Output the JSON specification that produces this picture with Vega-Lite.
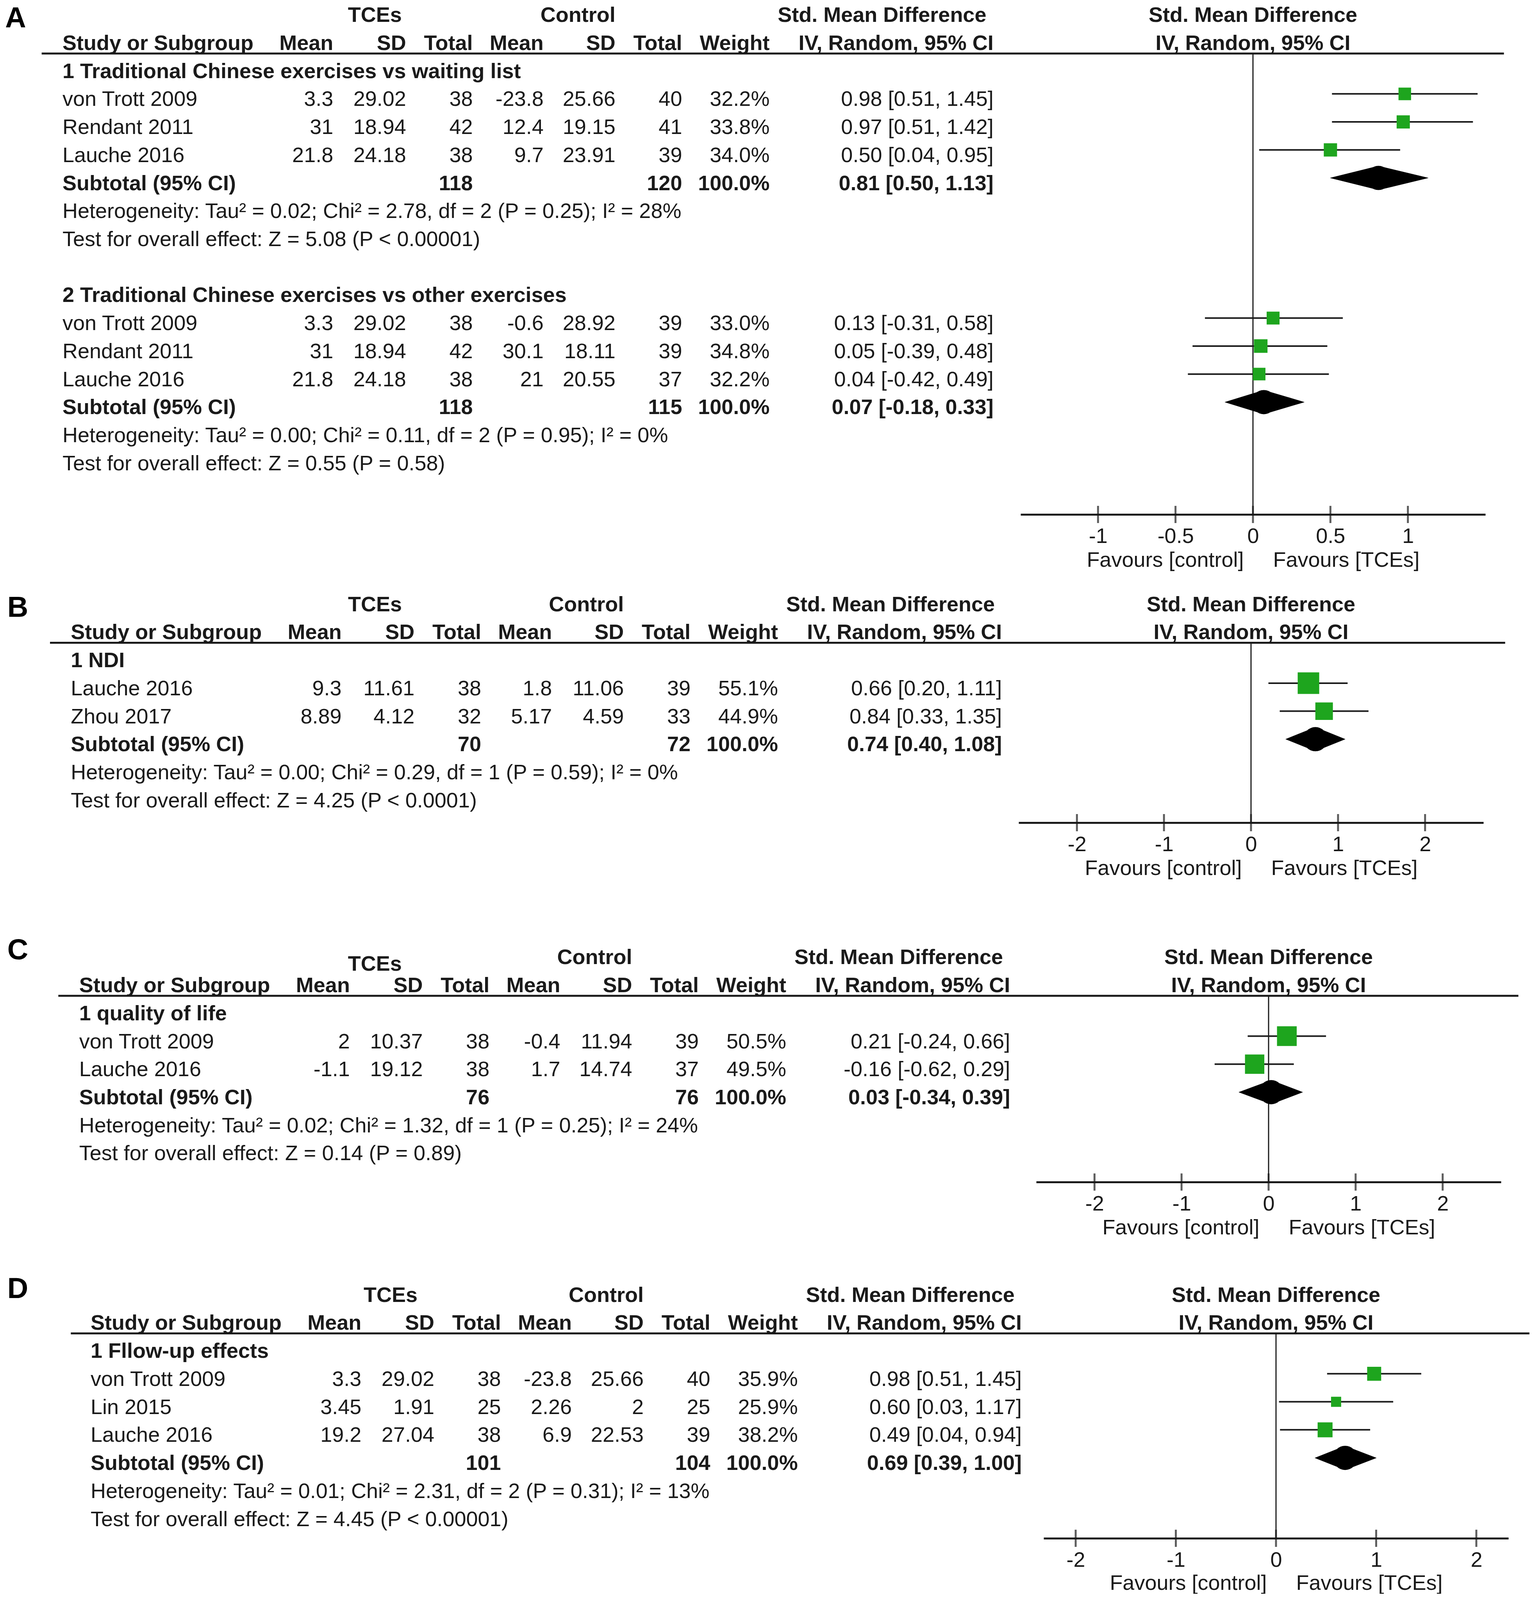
{
"$schema": "https://vega.github.io/schema/vega-lite/v6.json",
"background": "white",
"padding": 0,
"spacing": 16,
"config": {"font": "Liberation Sans", "view": {"stroke": null}, "text": {"fontSize": 54, "baseline": "middle", "color": "#1a1a1a"}},
"datasets": {
"A": [
{"line":0,"kind":"group","tGroup":"TCEs","cGroup":"Control","ciGroup":"Std. Mean Difference","plot":"Std. Mean Difference"},
{"line":1,"kind":"header","label":"Study or Subgroup","tMean":"Mean","tSD":"SD","tN":"Total","cMean":"Mean","cSD":"SD","cN":"Total","weight":"Weight","ci":"IV, Random, 95% CI","plot":"IV, Random, 95% CI"},
{"line":2,"kind":"subgroup","label":"1 Traditional Chinese exercises vs waiting list"},
{"line":3,"kind":"study","label":"von Trott 2009","tMean":"3.3","tSD":"29.02","tN":"38","cMean":"-23.8","cSD":"25.66","cN":"40","weight":"32.2%","ci":"0.98 [0.51, 1.45]","smd":0.98,"lo":0.51,"hi":1.45,"w":32.2},
{"line":4,"kind":"study","label":"Rendant 2011","tMean":"31","tSD":"18.94","tN":"42","cMean":"12.4","cSD":"19.15","cN":"41","weight":"33.8%","ci":"0.97 [0.51, 1.42]","smd":0.97,"lo":0.51,"hi":1.42,"w":33.8},
{"line":5,"kind":"study","label":"Lauche 2016","tMean":"21.8","tSD":"24.18","tN":"38","cMean":"9.7","cSD":"23.91","cN":"39","weight":"34.0%","ci":"0.50 [0.04, 0.95]","smd":0.50,"lo":0.04,"hi":0.95,"w":34.0},
{"line":6,"kind":"subtotal","label":"Subtotal (95% CI)","tN":"118","cN":"120","weight":"100.0%","ci":"0.81 [0.50, 1.13]","smd":0.81,"lo":0.50,"hi":1.13},
{"line":7,"kind":"het","label":"Heterogeneity: Tau² = 0.02; Chi² = 2.78, df = 2 (P = 0.25); I² = 28%"},
{"line":8,"kind":"test","label":"Test for overall effect: Z = 5.08 (P < 0.00001)"},
{"line":10,"kind":"subgroup","label":"2 Traditional Chinese exercises vs other exercises"},
{"line":11,"kind":"study","label":"von Trott 2009","tMean":"3.3","tSD":"29.02","tN":"38","cMean":"-0.6","cSD":"28.92","cN":"39","weight":"33.0%","ci":"0.13 [-0.31, 0.58]","smd":0.13,"lo":-0.31,"hi":0.58,"w":33.0},
{"line":12,"kind":"study","label":"Rendant 2011","tMean":"31","tSD":"18.94","tN":"42","cMean":"30.1","cSD":"18.11","cN":"39","weight":"34.8%","ci":"0.05 [-0.39, 0.48]","smd":0.05,"lo":-0.39,"hi":0.48,"w":34.8},
{"line":13,"kind":"study","label":"Lauche 2016","tMean":"21.8","tSD":"24.18","tN":"38","cMean":"21","cSD":"20.55","cN":"37","weight":"32.2%","ci":"0.04 [-0.42, 0.49]","smd":0.04,"lo":-0.42,"hi":0.49,"w":32.2},
{"line":14,"kind":"subtotal","label":"Subtotal (95% CI)","tN":"118","cN":"115","weight":"100.0%","ci":"0.07 [-0.18, 0.33]","smd":0.07,"lo":-0.18,"hi":0.33},
{"line":15,"kind":"het","label":"Heterogeneity: Tau² = 0.00; Chi² = 0.11, df = 2 (P = 0.95); I² = 0%"},
{"line":16,"kind":"test","label":"Test for overall effect: Z = 0.55 (P = 0.58)"}
],
"B": [
{"line":0,"kind":"group","tGroup":"TCEs","cGroup":"Control","ciGroup":"Std. Mean Difference","plot":"Std. Mean Difference"},
{"line":1,"kind":"header","label":"Study or Subgroup","tMean":"Mean","tSD":"SD","tN":"Total","cMean":"Mean","cSD":"SD","cN":"Total","weight":"Weight","ci":"IV, Random, 95% CI","plot":"IV, Random, 95% CI"},
{"line":2,"kind":"subgroup","label":"1 NDI"},
{"line":3,"kind":"study","label":"Lauche 2016","tMean":"9.3","tSD":"11.61","tN":"38","cMean":"1.8","cSD":"11.06","cN":"39","weight":"55.1%","ci":"0.66 [0.20, 1.11]","smd":0.66,"lo":0.20,"hi":1.11,"w":55.1},
{"line":4,"kind":"study","label":"Zhou 2017","tMean":"8.89","tSD":"4.12","tN":"32","cMean":"5.17","cSD":"4.59","cN":"33","weight":"44.9%","ci":"0.84 [0.33, 1.35]","smd":0.84,"lo":0.33,"hi":1.35,"w":44.9},
{"line":5,"kind":"subtotal","label":"Subtotal (95% CI)","tN":"70","cN":"72","weight":"100.0%","ci":"0.74 [0.40, 1.08]","smd":0.74,"lo":0.40,"hi":1.08},
{"line":6,"kind":"het","label":"Heterogeneity: Tau² = 0.00; Chi² = 0.29, df = 1 (P = 0.59); I² = 0%"},
{"line":7,"kind":"test","label":"Test for overall effect: Z = 4.25 (P < 0.0001)"}
],
"C": [
{"line":0,"kind":"group","tGroup":"TCEs","cGroup":"Control","ciGroup":"Std. Mean Difference","plot":"Std. Mean Difference"},
{"line":1,"kind":"header","label":"Study or Subgroup","tMean":"Mean","tSD":"SD","tN":"Total","cMean":"Mean","cSD":"SD","cN":"Total","weight":"Weight","ci":"IV, Random, 95% CI","plot":"IV, Random, 95% CI"},
{"line":2,"kind":"subgroup","label":"1 quality of life"},
{"line":3,"kind":"study","label":"von Trott 2009","tMean":"2","tSD":"10.37","tN":"38","cMean":"-0.4","cSD":"11.94","cN":"39","weight":"50.5%","ci":"0.21 [-0.24, 0.66]","smd":0.21,"lo":-0.24,"hi":0.66,"w":50.5},
{"line":4,"kind":"study","label":"Lauche 2016","tMean":"-1.1","tSD":"19.12","tN":"38","cMean":"1.7","cSD":"14.74","cN":"37","weight":"49.5%","ci":"-0.16 [-0.62, 0.29]","smd":-0.16,"lo":-0.62,"hi":0.29,"w":49.5},
{"line":5,"kind":"subtotal","label":"Subtotal (95% CI)","tN":"76","cN":"76","weight":"100.0%","ci":"0.03 [-0.34, 0.39]","smd":0.03,"lo":-0.34,"hi":0.39},
{"line":6,"kind":"het","label":"Heterogeneity: Tau² = 0.02; Chi² = 1.32, df = 1 (P = 0.25); I² = 24%"},
{"line":7,"kind":"test","label":"Test for overall effect: Z = 0.14 (P = 0.89)"}
],
"D": [
{"line":0,"kind":"group","tGroup":"TCEs","cGroup":"Control","ciGroup":"Std. Mean Difference","plot":"Std. Mean Difference"},
{"line":1,"kind":"header","label":"Study or Subgroup","tMean":"Mean","tSD":"SD","tN":"Total","cMean":"Mean","cSD":"SD","cN":"Total","weight":"Weight","ci":"IV, Random, 95% CI","plot":"IV, Random, 95% CI"},
{"line":2,"kind":"subgroup","label":"1 Fllow-up effects"},
{"line":3,"kind":"study","label":"von Trott 2009","tMean":"3.3","tSD":"29.02","tN":"38","cMean":"-23.8","cSD":"25.66","cN":"40","weight":"35.9%","ci":"0.98 [0.51, 1.45]","smd":0.98,"lo":0.51,"hi":1.45,"w":35.9},
{"line":4,"kind":"study","label":"Lin 2015","tMean":"3.45","tSD":"1.91","tN":"25","cMean":"2.26","cSD":"2","cN":"25","weight":"25.9%","ci":"0.60 [0.03, 1.17]","smd":0.60,"lo":0.03,"hi":1.17,"w":25.9},
{"line":5,"kind":"study","label":"Lauche 2016","tMean":"19.2","tSD":"27.04","tN":"38","cMean":"6.9","cSD":"22.53","cN":"39","weight":"38.2%","ci":"0.49 [0.04, 0.94]","smd":0.49,"lo":0.04,"hi":0.94,"w":38.2},
{"line":6,"kind":"subtotal","label":"Subtotal (95% CI)","tN":"101","cN":"104","weight":"100.0%","ci":"0.69 [0.39, 1.00]","smd":0.69,"lo":0.39,"hi":1.00},
{"line":7,"kind":"het","label":"Heterogeneity: Tau² = 0.01; Chi² = 2.31, df = 2 (P = 0.31); I² = 13%"},
{"line":8,"kind":"test","label":"Test for overall effect: Z = 4.45 (P < 0.00001)"}
]
},
"vconcat": [
{"hconcat": [
{"width": 2613, "height": 1317, "data": {"name": "A"},
"layer": [
{"data": {"values": [{}]}, "mark": {"type": "rule", "strokeWidth": 5, "color": "#1a1a1a"}, "encoding": {"x": {"datum": -20, "type": "quantitative", "scale": {"domain": [-60, 920], "nice": false, "zero": false}, "axis": null}, "x2": {"datum": 920}, "y": {"datum": 1.35, "type": "quantitative", "scale": {"domain": [-0.56, 17.8], "reverse": true, "nice": false, "zero": false}, "axis": null}}},
{"data": {"values": [{"letter": "A"}]}, "mark": {"type": "text", "align": "left", "fontSize": 74, "fontWeight": "bold", "color": "#000"}, "encoding": {"x": {"datum": -55, "type": "quantitative", "axis": null}, "y": {"datum": 0.11, "type": "quantitative", "axis": null}, "text": {"field": "letter", "type": "nominal"}}},
{"transform": [{"filter": "datum.kind == 'group'"}], "mark": {"type": "text", "align": "center", "fontWeight": "bold"}, "encoding": {"x": {"datum": 300, "type": "quantitative", "axis": null}, "y": {"field": "line", "type": "quantitative", "axis": null}, "text": {"field": "tGroup", "type": "nominal"}}},
{"transform": [{"filter": "datum.kind == 'group'"}], "mark": {"type": "text", "align": "center", "fontWeight": "bold"}, "encoding": {"x": {"datum": 495, "type": "quantitative", "axis": null}, "y": {"field": "line", "type": "quantitative", "axis": null}, "text": {"field": "cGroup", "type": "nominal"}}},
{"transform": [{"filter": "datum.kind == 'group'"}], "mark": {"type": "text", "align": "center", "fontWeight": "bold"}, "encoding": {"x": {"datum": 787, "type": "quantitative", "axis": null}, "y": {"field": "line", "type": "quantitative", "axis": null}, "text": {"field": "ciGroup", "type": "nominal"}}},
{"transform": [{"filter": "datum.kind == 'study' || datum.kind == 'het' || datum.kind == 'test'"}], "mark": {"type": "text", "align": "left"}, "encoding": {"x": {"datum": 0, "type": "quantitative", "axis": null}, "y": {"field": "line", "type": "quantitative", "axis": null}, "text": {"field": "label", "type": "nominal"}}},
{"transform": [{"filter": "datum.kind == 'header' || datum.kind == 'subgroup' || datum.kind == 'subtotal'"}], "mark": {"type": "text", "align": "left", "fontWeight": "bold"}, "encoding": {"x": {"datum": 0, "type": "quantitative", "axis": null}, "y": {"field": "line", "type": "quantitative", "axis": null}, "text": {"field": "label", "type": "nominal"}}},
{"transform": [{"filter": "datum.kind == 'study'"}], "mark": {"type": "text", "align": "right"}, "encoding": {"x": {"datum": 260, "type": "quantitative", "axis": null}, "y": {"field": "line", "type": "quantitative", "axis": null}, "text": {"field": "tMean", "type": "nominal"}}},
{"transform": [{"filter": "datum.kind == 'header'"}], "mark": {"type": "text", "align": "right", "fontWeight": "bold"}, "encoding": {"x": {"datum": 260, "type": "quantitative", "axis": null}, "y": {"field": "line", "type": "quantitative", "axis": null}, "text": {"field": "tMean", "type": "nominal"}}},
{"transform": [{"filter": "datum.kind == 'study'"}], "mark": {"type": "text", "align": "right"}, "encoding": {"x": {"datum": 330, "type": "quantitative", "axis": null}, "y": {"field": "line", "type": "quantitative", "axis": null}, "text": {"field": "tSD", "type": "nominal"}}},
{"transform": [{"filter": "datum.kind == 'header'"}], "mark": {"type": "text", "align": "right", "fontWeight": "bold"}, "encoding": {"x": {"datum": 330, "type": "quantitative", "axis": null}, "y": {"field": "line", "type": "quantitative", "axis": null}, "text": {"field": "tSD", "type": "nominal"}}},
{"transform": [{"filter": "datum.kind == 'study'"}], "mark": {"type": "text", "align": "right"}, "encoding": {"x": {"datum": 394, "type": "quantitative", "axis": null}, "y": {"field": "line", "type": "quantitative", "axis": null}, "text": {"field": "tN", "type": "nominal"}}},
{"transform": [{"filter": "datum.kind == 'header' || datum.kind == 'subtotal'"}], "mark": {"type": "text", "align": "right", "fontWeight": "bold"}, "encoding": {"x": {"datum": 394, "type": "quantitative", "axis": null}, "y": {"field": "line", "type": "quantitative", "axis": null}, "text": {"field": "tN", "type": "nominal"}}},
{"transform": [{"filter": "datum.kind == 'study'"}], "mark": {"type": "text", "align": "right"}, "encoding": {"x": {"datum": 462, "type": "quantitative", "axis": null}, "y": {"field": "line", "type": "quantitative", "axis": null}, "text": {"field": "cMean", "type": "nominal"}}},
{"transform": [{"filter": "datum.kind == 'header'"}], "mark": {"type": "text", "align": "right", "fontWeight": "bold"}, "encoding": {"x": {"datum": 462, "type": "quantitative", "axis": null}, "y": {"field": "line", "type": "quantitative", "axis": null}, "text": {"field": "cMean", "type": "nominal"}}},
{"transform": [{"filter": "datum.kind == 'study'"}], "mark": {"type": "text", "align": "right"}, "encoding": {"x": {"datum": 531, "type": "quantitative", "axis": null}, "y": {"field": "line", "type": "quantitative", "axis": null}, "text": {"field": "cSD", "type": "nominal"}}},
{"transform": [{"filter": "datum.kind == 'header'"}], "mark": {"type": "text", "align": "right", "fontWeight": "bold"}, "encoding": {"x": {"datum": 531, "type": "quantitative", "axis": null}, "y": {"field": "line", "type": "quantitative", "axis": null}, "text": {"field": "cSD", "type": "nominal"}}},
{"transform": [{"filter": "datum.kind == 'study'"}], "mark": {"type": "text", "align": "right"}, "encoding": {"x": {"datum": 595, "type": "quantitative", "axis": null}, "y": {"field": "line", "type": "quantitative", "axis": null}, "text": {"field": "cN", "type": "nominal"}}},
{"transform": [{"filter": "datum.kind == 'header' || datum.kind == 'subtotal'"}], "mark": {"type": "text", "align": "right", "fontWeight": "bold"}, "encoding": {"x": {"datum": 595, "type": "quantitative", "axis": null}, "y": {"field": "line", "type": "quantitative", "axis": null}, "text": {"field": "cN", "type": "nominal"}}},
{"transform": [{"filter": "datum.kind == 'study'"}], "mark": {"type": "text", "align": "right"}, "encoding": {"x": {"datum": 679, "type": "quantitative", "axis": null}, "y": {"field": "line", "type": "quantitative", "axis": null}, "text": {"field": "weight", "type": "nominal"}}},
{"transform": [{"filter": "datum.kind == 'header' || datum.kind == 'subtotal'"}], "mark": {"type": "text", "align": "right", "fontWeight": "bold"}, "encoding": {"x": {"datum": 679, "type": "quantitative", "axis": null}, "y": {"field": "line", "type": "quantitative", "axis": null}, "text": {"field": "weight", "type": "nominal"}}},
{"transform": [{"filter": "datum.kind == 'study'"}], "mark": {"type": "text", "align": "right"}, "encoding": {"x": {"datum": 894, "type": "quantitative", "axis": null}, "y": {"field": "line", "type": "quantitative", "axis": null}, "text": {"field": "ci", "type": "nominal"}}},
{"transform": [{"filter": "datum.kind == 'header' || datum.kind == 'subtotal'"}], "mark": {"type": "text", "align": "right", "fontWeight": "bold"}, "encoding": {"x": {"datum": 894, "type": "quantitative", "axis": null}, "y": {"field": "line", "type": "quantitative", "axis": null}, "text": {"field": "ci", "type": "nominal"}}}
]},
{"width": 1190, "height": 1317, "data": {"name": "A"},
"layer": [
{"data": {"values": [{}]}, "mark": {"type": "rule", "strokeWidth": 5, "color": "#1a1a1a"}, "encoding": {"x": {"datum": -1.5, "type": "quantitative", "scale": {"domain": [-1.5, 1.5], "nice": false, "zero": false}, "axis": {"values": [-1, -0.5, 0, 0.5, 1], "labelExpr": "datum.value + ''", "ticks": false, "grid": false, "domainWidth": 5, "domainColor": "#1a1a1a", "labelFontSize": 54, "labelColor": "#1a1a1a", "labelPadding": 29, "labelFlush": false, "labelOverlap": false, "title": "Favours [control]\u00a0\u00a0\u00a0\u00a0\u00a0Favours [TCEs]", "titleFontSize": 54, "titleFontWeight": "normal", "titleColor": "#1a1a1a", "titlePadding": 7}}, "x2": {"datum": 1.62}, "y": {"datum": 1.35, "type": "quantitative", "scale": {"domain": [-0.56, 17.8], "reverse": true, "nice": false, "zero": false}, "axis": null}}},
{"data": {"values": [{}]}, "mark": {"type": "rule", "strokeWidth": 3, "color": "#1a1a1a"}, "encoding": {"x": {"datum": 0, "type": "quantitative"}, "y": {"datum": 1.35, "type": "quantitative", "axis": null}, "y2": {"datum": 17.8}}},
{"transform": [{"filter": "isValid(datum.plot)"}], "mark": {"type": "text", "align": "center", "fontWeight": "bold"}, "encoding": {"x": {"datum": 0, "type": "quantitative"}, "y": {"field": "line", "type": "quantitative", "axis": null}, "text": {"field": "plot", "type": "nominal"}}},
{"transform": [{"filter": "datum.kind == 'study'"}], "mark": {"type": "rule", "strokeWidth": 4, "color": "#1a1a1a", "yOffset": -15}, "encoding": {"x": {"field": "lo", "type": "quantitative"}, "x2": {"field": "hi"}, "y": {"field": "line", "type": "quantitative", "axis": null}}},
{"transform": [{"filter": "datum.kind == 'study'"}], "mark": {"type": "point", "shape": "square", "filled": true, "color": "#1ea51e", "opacity": 1, "yOffset": -15}, "encoding": {"x": {"field": "smd", "type": "quantitative"}, "y": {"field": "line", "type": "quantitative", "axis": null}, "size": {"field": "w", "type": "quantitative", "scale": {"type": "pow", "exponent": 2, "domain": [0, 100], "range": [0, 10000]}, "legend": null}}},
{"transform": [{"filter": "datum.kind == 'subtotal'"}, {"fold": ["lo", "smd", "hi"], "as": ["key", "value"]}], "mark": {"type": "trail", "color": "#000", "yOffset": -15}, "encoding": {"x": {"field": "value", "type": "quantitative"}, "y": {"field": "line", "type": "quantitative", "axis": null}, "size": {"field": "key", "type": "nominal", "scale": {"type": "ordinal", "domain": ["lo", "smd", "hi"], "range": [0, 62, 0]}, "legend": null}, "detail": {"field": "line", "type": "nominal"}}},
{"data": {"values": [{"t": -1}, {"t": -0.5}, {"t": 0}, {"t": 0.5}, {"t": 1}]}, "mark": {"type": "tick", "orient": "vertical", "size": 44, "thickness": 5, "color": "#1a1a1a"}, "encoding": {"x": {"field": "t", "type": "quantitative"}, "y": {"datum": 17.8, "type": "quantitative", "axis": null}}}
]}
], "spacing": 0, "bounds": "flush"},
{"hconcat": [
{"width": 2608, "height": 629, "data": {"name": "B"},
"layer": [
{"data": {"values": [{}]}, "mark": {"type": "rule", "strokeWidth": 5, "color": "#1a1a1a"}, "encoding": {"x": {"datum": -20, "type": "quantitative", "scale": {"domain": [-68, 910], "nice": false, "zero": false}, "axis": null}, "x2": {"datum": 910}, "y": {"datum": 1.35, "type": "quantitative", "scale": {"domain": [-1.0, 7.77], "reverse": true, "nice": false, "zero": false}, "axis": null}}},
{"data": {"values": [{"letter": "B"}]}, "mark": {"type": "text", "align": "left", "fontSize": 74, "fontWeight": "bold", "color": "#000"}, "encoding": {"x": {"datum": -61, "type": "quantitative", "axis": null}, "y": {"datum": 0.11, "type": "quantitative", "axis": null}, "text": {"field": "letter", "type": "nominal"}}},
{"transform": [{"filter": "datum.kind == 'group'"}], "mark": {"type": "text", "align": "center", "fontWeight": "bold"}, "encoding": {"x": {"datum": 292, "type": "quantitative", "axis": null}, "y": {"field": "line", "type": "quantitative", "axis": null}, "text": {"field": "tGroup", "type": "nominal"}}},
{"transform": [{"filter": "datum.kind == 'group'"}], "mark": {"type": "text", "align": "center", "fontWeight": "bold"}, "encoding": {"x": {"datum": 495, "type": "quantitative", "axis": null}, "y": {"field": "line", "type": "quantitative", "axis": null}, "text": {"field": "cGroup", "type": "nominal"}}},
{"transform": [{"filter": "datum.kind == 'group'"}], "mark": {"type": "text", "align": "center", "fontWeight": "bold"}, "encoding": {"x": {"datum": 787, "type": "quantitative", "axis": null}, "y": {"field": "line", "type": "quantitative", "axis": null}, "text": {"field": "ciGroup", "type": "nominal"}}},
{"transform": [{"filter": "datum.kind == 'study' || datum.kind == 'het' || datum.kind == 'test'"}], "mark": {"type": "text", "align": "left"}, "encoding": {"x": {"datum": 0, "type": "quantitative", "axis": null}, "y": {"field": "line", "type": "quantitative", "axis": null}, "text": {"field": "label", "type": "nominal"}}},
{"transform": [{"filter": "datum.kind == 'header' || datum.kind == 'subgroup' || datum.kind == 'subtotal'"}], "mark": {"type": "text", "align": "left", "fontWeight": "bold"}, "encoding": {"x": {"datum": 0, "type": "quantitative", "axis": null}, "y": {"field": "line", "type": "quantitative", "axis": null}, "text": {"field": "label", "type": "nominal"}}},
{"transform": [{"filter": "datum.kind == 'study'"}], "mark": {"type": "text", "align": "right"}, "encoding": {"x": {"datum": 260, "type": "quantitative", "axis": null}, "y": {"field": "line", "type": "quantitative", "axis": null}, "text": {"field": "tMean", "type": "nominal"}}},
{"transform": [{"filter": "datum.kind == 'header'"}], "mark": {"type": "text", "align": "right", "fontWeight": "bold"}, "encoding": {"x": {"datum": 260, "type": "quantitative", "axis": null}, "y": {"field": "line", "type": "quantitative", "axis": null}, "text": {"field": "tMean", "type": "nominal"}}},
{"transform": [{"filter": "datum.kind == 'study'"}], "mark": {"type": "text", "align": "right"}, "encoding": {"x": {"datum": 330, "type": "quantitative", "axis": null}, "y": {"field": "line", "type": "quantitative", "axis": null}, "text": {"field": "tSD", "type": "nominal"}}},
{"transform": [{"filter": "datum.kind == 'header'"}], "mark": {"type": "text", "align": "right", "fontWeight": "bold"}, "encoding": {"x": {"datum": 330, "type": "quantitative", "axis": null}, "y": {"field": "line", "type": "quantitative", "axis": null}, "text": {"field": "tSD", "type": "nominal"}}},
{"transform": [{"filter": "datum.kind == 'study'"}], "mark": {"type": "text", "align": "right"}, "encoding": {"x": {"datum": 394, "type": "quantitative", "axis": null}, "y": {"field": "line", "type": "quantitative", "axis": null}, "text": {"field": "tN", "type": "nominal"}}},
{"transform": [{"filter": "datum.kind == 'header' || datum.kind == 'subtotal'"}], "mark": {"type": "text", "align": "right", "fontWeight": "bold"}, "encoding": {"x": {"datum": 394, "type": "quantitative", "axis": null}, "y": {"field": "line", "type": "quantitative", "axis": null}, "text": {"field": "tN", "type": "nominal"}}},
{"transform": [{"filter": "datum.kind == 'study'"}], "mark": {"type": "text", "align": "right"}, "encoding": {"x": {"datum": 462, "type": "quantitative", "axis": null}, "y": {"field": "line", "type": "quantitative", "axis": null}, "text": {"field": "cMean", "type": "nominal"}}},
{"transform": [{"filter": "datum.kind == 'header'"}], "mark": {"type": "text", "align": "right", "fontWeight": "bold"}, "encoding": {"x": {"datum": 462, "type": "quantitative", "axis": null}, "y": {"field": "line", "type": "quantitative", "axis": null}, "text": {"field": "cMean", "type": "nominal"}}},
{"transform": [{"filter": "datum.kind == 'study'"}], "mark": {"type": "text", "align": "right"}, "encoding": {"x": {"datum": 531, "type": "quantitative", "axis": null}, "y": {"field": "line", "type": "quantitative", "axis": null}, "text": {"field": "cSD", "type": "nominal"}}},
{"transform": [{"filter": "datum.kind == 'header'"}], "mark": {"type": "text", "align": "right", "fontWeight": "bold"}, "encoding": {"x": {"datum": 531, "type": "quantitative", "axis": null}, "y": {"field": "line", "type": "quantitative", "axis": null}, "text": {"field": "cSD", "type": "nominal"}}},
{"transform": [{"filter": "datum.kind == 'study'"}], "mark": {"type": "text", "align": "right"}, "encoding": {"x": {"datum": 595, "type": "quantitative", "axis": null}, "y": {"field": "line", "type": "quantitative", "axis": null}, "text": {"field": "cN", "type": "nominal"}}},
{"transform": [{"filter": "datum.kind == 'header' || datum.kind == 'subtotal'"}], "mark": {"type": "text", "align": "right", "fontWeight": "bold"}, "encoding": {"x": {"datum": 595, "type": "quantitative", "axis": null}, "y": {"field": "line", "type": "quantitative", "axis": null}, "text": {"field": "cN", "type": "nominal"}}},
{"transform": [{"filter": "datum.kind == 'study'"}], "mark": {"type": "text", "align": "right"}, "encoding": {"x": {"datum": 679, "type": "quantitative", "axis": null}, "y": {"field": "line", "type": "quantitative", "axis": null}, "text": {"field": "weight", "type": "nominal"}}},
{"transform": [{"filter": "datum.kind == 'header' || datum.kind == 'subtotal'"}], "mark": {"type": "text", "align": "right", "fontWeight": "bold"}, "encoding": {"x": {"datum": 679, "type": "quantitative", "axis": null}, "y": {"field": "line", "type": "quantitative", "axis": null}, "text": {"field": "weight", "type": "nominal"}}},
{"transform": [{"filter": "datum.kind == 'study'"}], "mark": {"type": "text", "align": "right"}, "encoding": {"x": {"datum": 894, "type": "quantitative", "axis": null}, "y": {"field": "line", "type": "quantitative", "axis": null}, "text": {"field": "ci", "type": "nominal"}}},
{"transform": [{"filter": "datum.kind == 'header' || datum.kind == 'subtotal'"}], "mark": {"type": "text", "align": "right", "fontWeight": "bold"}, "encoding": {"x": {"datum": 894, "type": "quantitative", "axis": null}, "y": {"field": "line", "type": "quantitative", "axis": null}, "text": {"field": "ci", "type": "nominal"}}}
]},
{"width": 1190, "height": 629, "data": {"name": "B"},
"layer": [
{"data": {"values": [{}]}, "mark": {"type": "rule", "strokeWidth": 5, "color": "#1a1a1a"}, "encoding": {"x": {"datum": -2.67, "type": "quantitative", "scale": {"domain": [-2.67, 2.67], "nice": false, "zero": false}, "axis": {"values": [-2, -1, 0, 1, 2], "labelExpr": "datum.value + ''", "ticks": false, "grid": false, "domainWidth": 5, "domainColor": "#1a1a1a", "labelFontSize": 54, "labelColor": "#1a1a1a", "labelPadding": 29, "labelFlush": false, "labelOverlap": false, "title": "Favours [control]\u00a0\u00a0\u00a0\u00a0\u00a0Favours [TCEs]", "titleFontSize": 54, "titleFontWeight": "normal", "titleColor": "#1a1a1a", "titlePadding": 7}}, "x2": {"datum": 2.92}, "y": {"datum": 1.35, "type": "quantitative", "scale": {"domain": [-1.0, 7.77], "reverse": true, "nice": false, "zero": false}, "axis": null}}},
{"data": {"values": [{}]}, "mark": {"type": "rule", "strokeWidth": 3, "color": "#1a1a1a"}, "encoding": {"x": {"datum": 0, "type": "quantitative"}, "y": {"datum": 1.35, "type": "quantitative", "axis": null}, "y2": {"datum": 7.77}}},
{"transform": [{"filter": "isValid(datum.plot)"}], "mark": {"type": "text", "align": "center", "fontWeight": "bold"}, "encoding": {"x": {"datum": 0, "type": "quantitative"}, "y": {"field": "line", "type": "quantitative", "axis": null}, "text": {"field": "plot", "type": "nominal"}}},
{"transform": [{"filter": "datum.kind == 'study'"}], "mark": {"type": "rule", "strokeWidth": 4, "color": "#1a1a1a", "yOffset": -15}, "encoding": {"x": {"field": "lo", "type": "quantitative"}, "x2": {"field": "hi"}, "y": {"field": "line", "type": "quantitative", "axis": null}}},
{"transform": [{"filter": "datum.kind == 'study'"}], "mark": {"type": "point", "shape": "square", "filled": true, "color": "#1ea51e", "opacity": 1, "yOffset": -15}, "encoding": {"x": {"field": "smd", "type": "quantitative"}, "y": {"field": "line", "type": "quantitative", "axis": null}, "size": {"field": "w", "type": "quantitative", "scale": {"type": "pow", "exponent": 2, "domain": [0, 100], "range": [0, 10000]}, "legend": null}}},
{"transform": [{"filter": "datum.kind == 'subtotal'"}, {"fold": ["lo", "smd", "hi"], "as": ["key", "value"]}], "mark": {"type": "trail", "color": "#000", "yOffset": -15}, "encoding": {"x": {"field": "value", "type": "quantitative"}, "y": {"field": "line", "type": "quantitative", "axis": null}, "size": {"field": "key", "type": "nominal", "scale": {"type": "ordinal", "domain": ["lo", "smd", "hi"], "range": [0, 62, 0]}, "legend": null}, "detail": {"field": "line", "type": "nominal"}}},
{"data": {"values": [{"t": -2}, {"t": -1}, {"t": 0}, {"t": 1}, {"t": 2}]}, "mark": {"type": "tick", "orient": "vertical", "size": 44, "thickness": 5, "color": "#1a1a1a"}, "encoding": {"x": {"field": "t", "type": "quantitative"}, "y": {"datum": 7.77, "type": "quantitative", "axis": null}}}
]}
], "spacing": 0, "bounds": "flush"},
{"hconcat": [
{"width": 2653, "height": 760, "data": {"name": "C"},
"layer": [
{"data": {"values": [{}]}, "mark": {"type": "rule", "strokeWidth": 5, "color": "#1a1a1a"}, "encoding": {"x": {"datum": -20, "type": "quantitative", "scale": {"domain": [-76, 919], "nice": false, "zero": false}, "axis": null}, "x2": {"datum": 919}, "y": {"datum": 1.35, "type": "quantitative", "scale": {"domain": [-2.6, 8.0], "reverse": true, "nice": false, "zero": false}, "axis": null}}},
{"data": {"values": [{"letter": "C"}]}, "mark": {"type": "text", "align": "left", "fontSize": 74, "fontWeight": "bold", "color": "#000"}, "encoding": {"x": {"datum": -69, "type": "quantitative", "axis": null}, "y": {"datum": -0.26, "type": "quantitative", "axis": null}, "text": {"field": "letter", "type": "nominal"}}},
{"transform": [{"filter": "datum.kind == 'group'"}], "mark": {"type": "text", "align": "center", "fontWeight": "bold", "yOffset": 17}, "encoding": {"x": {"datum": 284, "type": "quantitative", "axis": null}, "y": {"field": "line", "type": "quantitative", "axis": null}, "text": {"field": "tGroup", "type": "nominal"}}},
{"transform": [{"filter": "datum.kind == 'group'"}], "mark": {"type": "text", "align": "center", "fontWeight": "bold"}, "encoding": {"x": {"datum": 495, "type": "quantitative", "axis": null}, "y": {"field": "line", "type": "quantitative", "axis": null}, "text": {"field": "cGroup", "type": "nominal"}}},
{"transform": [{"filter": "datum.kind == 'group'"}], "mark": {"type": "text", "align": "center", "fontWeight": "bold"}, "encoding": {"x": {"datum": 787, "type": "quantitative", "axis": null}, "y": {"field": "line", "type": "quantitative", "axis": null}, "text": {"field": "ciGroup", "type": "nominal"}}},
{"transform": [{"filter": "datum.kind == 'study' || datum.kind == 'het' || datum.kind == 'test'"}], "mark": {"type": "text", "align": "left"}, "encoding": {"x": {"datum": 0, "type": "quantitative", "axis": null}, "y": {"field": "line", "type": "quantitative", "axis": null}, "text": {"field": "label", "type": "nominal"}}},
{"transform": [{"filter": "datum.kind == 'header' || datum.kind == 'subgroup' || datum.kind == 'subtotal'"}], "mark": {"type": "text", "align": "left", "fontWeight": "bold"}, "encoding": {"x": {"datum": 0, "type": "quantitative", "axis": null}, "y": {"field": "line", "type": "quantitative", "axis": null}, "text": {"field": "label", "type": "nominal"}}},
{"transform": [{"filter": "datum.kind == 'study'"}], "mark": {"type": "text", "align": "right"}, "encoding": {"x": {"datum": 260, "type": "quantitative", "axis": null}, "y": {"field": "line", "type": "quantitative", "axis": null}, "text": {"field": "tMean", "type": "nominal"}}},
{"transform": [{"filter": "datum.kind == 'header'"}], "mark": {"type": "text", "align": "right", "fontWeight": "bold"}, "encoding": {"x": {"datum": 260, "type": "quantitative", "axis": null}, "y": {"field": "line", "type": "quantitative", "axis": null}, "text": {"field": "tMean", "type": "nominal"}}},
{"transform": [{"filter": "datum.kind == 'study'"}], "mark": {"type": "text", "align": "right"}, "encoding": {"x": {"datum": 330, "type": "quantitative", "axis": null}, "y": {"field": "line", "type": "quantitative", "axis": null}, "text": {"field": "tSD", "type": "nominal"}}},
{"transform": [{"filter": "datum.kind == 'header'"}], "mark": {"type": "text", "align": "right", "fontWeight": "bold"}, "encoding": {"x": {"datum": 330, "type": "quantitative", "axis": null}, "y": {"field": "line", "type": "quantitative", "axis": null}, "text": {"field": "tSD", "type": "nominal"}}},
{"transform": [{"filter": "datum.kind == 'study'"}], "mark": {"type": "text", "align": "right"}, "encoding": {"x": {"datum": 394, "type": "quantitative", "axis": null}, "y": {"field": "line", "type": "quantitative", "axis": null}, "text": {"field": "tN", "type": "nominal"}}},
{"transform": [{"filter": "datum.kind == 'header' || datum.kind == 'subtotal'"}], "mark": {"type": "text", "align": "right", "fontWeight": "bold"}, "encoding": {"x": {"datum": 394, "type": "quantitative", "axis": null}, "y": {"field": "line", "type": "quantitative", "axis": null}, "text": {"field": "tN", "type": "nominal"}}},
{"transform": [{"filter": "datum.kind == 'study'"}], "mark": {"type": "text", "align": "right"}, "encoding": {"x": {"datum": 462, "type": "quantitative", "axis": null}, "y": {"field": "line", "type": "quantitative", "axis": null}, "text": {"field": "cMean", "type": "nominal"}}},
{"transform": [{"filter": "datum.kind == 'header'"}], "mark": {"type": "text", "align": "right", "fontWeight": "bold"}, "encoding": {"x": {"datum": 462, "type": "quantitative", "axis": null}, "y": {"field": "line", "type": "quantitative", "axis": null}, "text": {"field": "cMean", "type": "nominal"}}},
{"transform": [{"filter": "datum.kind == 'study'"}], "mark": {"type": "text", "align": "right"}, "encoding": {"x": {"datum": 531, "type": "quantitative", "axis": null}, "y": {"field": "line", "type": "quantitative", "axis": null}, "text": {"field": "cSD", "type": "nominal"}}},
{"transform": [{"filter": "datum.kind == 'header'"}], "mark": {"type": "text", "align": "right", "fontWeight": "bold"}, "encoding": {"x": {"datum": 531, "type": "quantitative", "axis": null}, "y": {"field": "line", "type": "quantitative", "axis": null}, "text": {"field": "cSD", "type": "nominal"}}},
{"transform": [{"filter": "datum.kind == 'study'"}], "mark": {"type": "text", "align": "right"}, "encoding": {"x": {"datum": 595, "type": "quantitative", "axis": null}, "y": {"field": "line", "type": "quantitative", "axis": null}, "text": {"field": "cN", "type": "nominal"}}},
{"transform": [{"filter": "datum.kind == 'header' || datum.kind == 'subtotal'"}], "mark": {"type": "text", "align": "right", "fontWeight": "bold"}, "encoding": {"x": {"datum": 595, "type": "quantitative", "axis": null}, "y": {"field": "line", "type": "quantitative", "axis": null}, "text": {"field": "cN", "type": "nominal"}}},
{"transform": [{"filter": "datum.kind == 'study'"}], "mark": {"type": "text", "align": "right"}, "encoding": {"x": {"datum": 679, "type": "quantitative", "axis": null}, "y": {"field": "line", "type": "quantitative", "axis": null}, "text": {"field": "weight", "type": "nominal"}}},
{"transform": [{"filter": "datum.kind == 'header' || datum.kind == 'subtotal'"}], "mark": {"type": "text", "align": "right", "fontWeight": "bold"}, "encoding": {"x": {"datum": 679, "type": "quantitative", "axis": null}, "y": {"field": "line", "type": "quantitative", "axis": null}, "text": {"field": "weight", "type": "nominal"}}},
{"transform": [{"filter": "datum.kind == 'study'"}], "mark": {"type": "text", "align": "right"}, "encoding": {"x": {"datum": 894, "type": "quantitative", "axis": null}, "y": {"field": "line", "type": "quantitative", "axis": null}, "text": {"field": "ci", "type": "nominal"}}},
{"transform": [{"filter": "datum.kind == 'header' || datum.kind == 'subtotal'"}], "mark": {"type": "text", "align": "right", "fontWeight": "bold"}, "encoding": {"x": {"datum": 894, "type": "quantitative", "axis": null}, "y": {"field": "line", "type": "quantitative", "axis": null}, "text": {"field": "ci", "type": "nominal"}}}
]},
{"width": 1190, "height": 760, "data": {"name": "C"},
"layer": [
{"data": {"values": [{}]}, "mark": {"type": "rule", "strokeWidth": 5, "color": "#1a1a1a"}, "encoding": {"x": {"datum": -2.67, "type": "quantitative", "scale": {"domain": [-2.67, 2.67], "nice": false, "zero": false}, "axis": {"values": [-2, -1, 0, 1, 2], "labelExpr": "datum.value + ''", "ticks": false, "grid": false, "domainWidth": 5, "domainColor": "#1a1a1a", "labelFontSize": 54, "labelColor": "#1a1a1a", "labelPadding": 29, "labelFlush": false, "labelOverlap": false, "title": "Favours [control]\u00a0\u00a0\u00a0\u00a0\u00a0Favours [TCEs]", "titleFontSize": 54, "titleFontWeight": "normal", "titleColor": "#1a1a1a", "titlePadding": 7}}, "x2": {"datum": 2.87}, "y": {"datum": 1.35, "type": "quantitative", "scale": {"domain": [-2.6, 8.0], "reverse": true, "nice": false, "zero": false}, "axis": null}}},
{"data": {"values": [{}]}, "mark": {"type": "rule", "strokeWidth": 3, "color": "#1a1a1a"}, "encoding": {"x": {"datum": 0, "type": "quantitative"}, "y": {"datum": 1.35, "type": "quantitative", "axis": null}, "y2": {"datum": 8.0}}},
{"transform": [{"filter": "isValid(datum.plot)"}], "mark": {"type": "text", "align": "center", "fontWeight": "bold"}, "encoding": {"x": {"datum": 0, "type": "quantitative"}, "y": {"field": "line", "type": "quantitative", "axis": null}, "text": {"field": "plot", "type": "nominal"}}},
{"transform": [{"filter": "datum.kind == 'study'"}], "mark": {"type": "rule", "strokeWidth": 4, "color": "#1a1a1a", "yOffset": -15}, "encoding": {"x": {"field": "lo", "type": "quantitative"}, "x2": {"field": "hi"}, "y": {"field": "line", "type": "quantitative", "axis": null}}},
{"transform": [{"filter": "datum.kind == 'study'"}], "mark": {"type": "point", "shape": "square", "filled": true, "color": "#1ea51e", "opacity": 1, "yOffset": -15}, "encoding": {"x": {"field": "smd", "type": "quantitative"}, "y": {"field": "line", "type": "quantitative", "axis": null}, "size": {"field": "w", "type": "quantitative", "scale": {"type": "pow", "exponent": 2, "domain": [0, 100], "range": [0, 10000]}, "legend": null}}},
{"transform": [{"filter": "datum.kind == 'subtotal'"}, {"fold": ["lo", "smd", "hi"], "as": ["key", "value"]}], "mark": {"type": "trail", "color": "#000", "yOffset": -15}, "encoding": {"x": {"field": "value", "type": "quantitative"}, "y": {"field": "line", "type": "quantitative", "axis": null}, "size": {"field": "key", "type": "nominal", "scale": {"type": "ordinal", "domain": ["lo", "smd", "hi"], "range": [0, 62, 0]}, "legend": null}, "detail": {"field": "line", "type": "nominal"}}},
{"data": {"values": [{"t": -2}, {"t": -1}, {"t": 0}, {"t": 1}, {"t": 2}]}, "mark": {"type": "tick", "orient": "vertical", "size": 44, "thickness": 5, "color": "#1a1a1a"}, "encoding": {"x": {"field": "t", "type": "quantitative"}, "y": {"datum": 8.0, "type": "quantitative", "axis": null}}}
]}
], "spacing": 0, "bounds": "flush"},
{"hconcat": [
{"width": 2672, "height": 752, "data": {"name": "D"},
"layer": [
{"data": {"values": [{}]}, "mark": {"type": "rule", "strokeWidth": 5, "color": "#1a1a1a"}, "encoding": {"x": {"datum": -19, "type": "quantitative", "scale": {"domain": [-87, 915], "nice": false, "zero": false}, "axis": null}, "x2": {"datum": 915}, "y": {"datum": 1.35, "type": "quantitative", "scale": {"domain": [-1.82, 8.66], "reverse": true, "nice": false, "zero": false}, "axis": null}}},
{"data": {"values": [{"letter": "D"}]}, "mark": {"type": "text", "align": "left", "fontSize": 74, "fontWeight": "bold", "color": "#000"}, "encoding": {"x": {"datum": -80, "type": "quantitative", "axis": null}, "y": {"datum": -0.22, "type": "quantitative", "axis": null}, "text": {"field": "letter", "type": "nominal"}}},
{"transform": [{"filter": "datum.kind == 'group'"}], "mark": {"type": "text", "align": "center", "fontWeight": "bold"}, "encoding": {"x": {"datum": 288, "type": "quantitative", "axis": null}, "y": {"field": "line", "type": "quantitative", "axis": null}, "text": {"field": "tGroup", "type": "nominal"}}},
{"transform": [{"filter": "datum.kind == 'group'"}], "mark": {"type": "text", "align": "center", "fontWeight": "bold"}, "encoding": {"x": {"datum": 495, "type": "quantitative", "axis": null}, "y": {"field": "line", "type": "quantitative", "axis": null}, "text": {"field": "cGroup", "type": "nominal"}}},
{"transform": [{"filter": "datum.kind == 'group'"}], "mark": {"type": "text", "align": "center", "fontWeight": "bold"}, "encoding": {"x": {"datum": 787, "type": "quantitative", "axis": null}, "y": {"field": "line", "type": "quantitative", "axis": null}, "text": {"field": "ciGroup", "type": "nominal"}}},
{"transform": [{"filter": "datum.kind == 'study' || datum.kind == 'het' || datum.kind == 'test'"}], "mark": {"type": "text", "align": "left"}, "encoding": {"x": {"datum": 0, "type": "quantitative", "axis": null}, "y": {"field": "line", "type": "quantitative", "axis": null}, "text": {"field": "label", "type": "nominal"}}},
{"transform": [{"filter": "datum.kind == 'header' || datum.kind == 'subgroup' || datum.kind == 'subtotal'"}], "mark": {"type": "text", "align": "left", "fontWeight": "bold"}, "encoding": {"x": {"datum": 0, "type": "quantitative", "axis": null}, "y": {"field": "line", "type": "quantitative", "axis": null}, "text": {"field": "label", "type": "nominal"}}},
{"transform": [{"filter": "datum.kind == 'study'"}], "mark": {"type": "text", "align": "right"}, "encoding": {"x": {"datum": 260, "type": "quantitative", "axis": null}, "y": {"field": "line", "type": "quantitative", "axis": null}, "text": {"field": "tMean", "type": "nominal"}}},
{"transform": [{"filter": "datum.kind == 'header'"}], "mark": {"type": "text", "align": "right", "fontWeight": "bold"}, "encoding": {"x": {"datum": 260, "type": "quantitative", "axis": null}, "y": {"field": "line", "type": "quantitative", "axis": null}, "text": {"field": "tMean", "type": "nominal"}}},
{"transform": [{"filter": "datum.kind == 'study'"}], "mark": {"type": "text", "align": "right"}, "encoding": {"x": {"datum": 330, "type": "quantitative", "axis": null}, "y": {"field": "line", "type": "quantitative", "axis": null}, "text": {"field": "tSD", "type": "nominal"}}},
{"transform": [{"filter": "datum.kind == 'header'"}], "mark": {"type": "text", "align": "right", "fontWeight": "bold"}, "encoding": {"x": {"datum": 330, "type": "quantitative", "axis": null}, "y": {"field": "line", "type": "quantitative", "axis": null}, "text": {"field": "tSD", "type": "nominal"}}},
{"transform": [{"filter": "datum.kind == 'study'"}], "mark": {"type": "text", "align": "right"}, "encoding": {"x": {"datum": 394, "type": "quantitative", "axis": null}, "y": {"field": "line", "type": "quantitative", "axis": null}, "text": {"field": "tN", "type": "nominal"}}},
{"transform": [{"filter": "datum.kind == 'header' || datum.kind == 'subtotal'"}], "mark": {"type": "text", "align": "right", "fontWeight": "bold"}, "encoding": {"x": {"datum": 394, "type": "quantitative", "axis": null}, "y": {"field": "line", "type": "quantitative", "axis": null}, "text": {"field": "tN", "type": "nominal"}}},
{"transform": [{"filter": "datum.kind == 'study'"}], "mark": {"type": "text", "align": "right"}, "encoding": {"x": {"datum": 462, "type": "quantitative", "axis": null}, "y": {"field": "line", "type": "quantitative", "axis": null}, "text": {"field": "cMean", "type": "nominal"}}},
{"transform": [{"filter": "datum.kind == 'header'"}], "mark": {"type": "text", "align": "right", "fontWeight": "bold"}, "encoding": {"x": {"datum": 462, "type": "quantitative", "axis": null}, "y": {"field": "line", "type": "quantitative", "axis": null}, "text": {"field": "cMean", "type": "nominal"}}},
{"transform": [{"filter": "datum.kind == 'study'"}], "mark": {"type": "text", "align": "right"}, "encoding": {"x": {"datum": 531, "type": "quantitative", "axis": null}, "y": {"field": "line", "type": "quantitative", "axis": null}, "text": {"field": "cSD", "type": "nominal"}}},
{"transform": [{"filter": "datum.kind == 'header'"}], "mark": {"type": "text", "align": "right", "fontWeight": "bold"}, "encoding": {"x": {"datum": 531, "type": "quantitative", "axis": null}, "y": {"field": "line", "type": "quantitative", "axis": null}, "text": {"field": "cSD", "type": "nominal"}}},
{"transform": [{"filter": "datum.kind == 'study'"}], "mark": {"type": "text", "align": "right"}, "encoding": {"x": {"datum": 595, "type": "quantitative", "axis": null}, "y": {"field": "line", "type": "quantitative", "axis": null}, "text": {"field": "cN", "type": "nominal"}}},
{"transform": [{"filter": "datum.kind == 'header' || datum.kind == 'subtotal'"}], "mark": {"type": "text", "align": "right", "fontWeight": "bold"}, "encoding": {"x": {"datum": 595, "type": "quantitative", "axis": null}, "y": {"field": "line", "type": "quantitative", "axis": null}, "text": {"field": "cN", "type": "nominal"}}},
{"transform": [{"filter": "datum.kind == 'study'"}], "mark": {"type": "text", "align": "right"}, "encoding": {"x": {"datum": 679, "type": "quantitative", "axis": null}, "y": {"field": "line", "type": "quantitative", "axis": null}, "text": {"field": "weight", "type": "nominal"}}},
{"transform": [{"filter": "datum.kind == 'header' || datum.kind == 'subtotal'"}], "mark": {"type": "text", "align": "right", "fontWeight": "bold"}, "encoding": {"x": {"datum": 679, "type": "quantitative", "axis": null}, "y": {"field": "line", "type": "quantitative", "axis": null}, "text": {"field": "weight", "type": "nominal"}}},
{"transform": [{"filter": "datum.kind == 'study'"}], "mark": {"type": "text", "align": "right"}, "encoding": {"x": {"datum": 894, "type": "quantitative", "axis": null}, "y": {"field": "line", "type": "quantitative", "axis": null}, "text": {"field": "ci", "type": "nominal"}}},
{"transform": [{"filter": "datum.kind == 'header' || datum.kind == 'subtotal'"}], "mark": {"type": "text", "align": "right", "fontWeight": "bold"}, "encoding": {"x": {"datum": 894, "type": "quantitative", "axis": null}, "y": {"field": "line", "type": "quantitative", "axis": null}, "text": {"field": "ci", "type": "nominal"}}}
]},
{"width": 1190, "height": 752, "data": {"name": "D"},
"layer": [
{"data": {"values": [{}]}, "mark": {"type": "rule", "strokeWidth": 5, "color": "#1a1a1a"}, "encoding": {"x": {"datum": -2.32, "type": "quantitative", "scale": {"domain": [-2.32, 2.32], "nice": false, "zero": false}, "axis": {"values": [-2, -1, 0, 1, 2], "labelExpr": "datum.value + ''", "ticks": false, "grid": false, "domainWidth": 5, "domainColor": "#1a1a1a", "labelFontSize": 54, "labelColor": "#1a1a1a", "labelPadding": 29, "labelFlush": false, "labelOverlap": false, "title": "Favours [control]\u00a0\u00a0\u00a0\u00a0\u00a0Favours [TCEs]", "titleFontSize": 54, "titleFontWeight": "normal", "titleColor": "#1a1a1a", "titlePadding": 5}}, "x2": {"datum": 2.53}, "y": {"datum": 1.35, "type": "quantitative", "scale": {"domain": [-1.82, 8.66], "reverse": true, "nice": false, "zero": false}, "axis": null}}},
{"data": {"values": [{}]}, "mark": {"type": "rule", "strokeWidth": 3, "color": "#1a1a1a"}, "encoding": {"x": {"datum": 0, "type": "quantitative"}, "y": {"datum": 1.35, "type": "quantitative", "axis": null}, "y2": {"datum": 8.66}}},
{"transform": [{"filter": "isValid(datum.plot)"}], "mark": {"type": "text", "align": "center", "fontWeight": "bold"}, "encoding": {"x": {"datum": 0, "type": "quantitative"}, "y": {"field": "line", "type": "quantitative", "axis": null}, "text": {"field": "plot", "type": "nominal"}}},
{"transform": [{"filter": "datum.kind == 'study'"}], "mark": {"type": "rule", "strokeWidth": 4, "color": "#1a1a1a", "yOffset": -15}, "encoding": {"x": {"field": "lo", "type": "quantitative"}, "x2": {"field": "hi"}, "y": {"field": "line", "type": "quantitative", "axis": null}}},
{"transform": [{"filter": "datum.kind == 'study'"}], "mark": {"type": "point", "shape": "square", "filled": true, "color": "#1ea51e", "opacity": 1, "yOffset": -15}, "encoding": {"x": {"field": "smd", "type": "quantitative"}, "y": {"field": "line", "type": "quantitative", "axis": null}, "size": {"field": "w", "type": "quantitative", "scale": {"type": "pow", "exponent": 2, "domain": [0, 100], "range": [0, 10000]}, "legend": null}}},
{"transform": [{"filter": "datum.kind == 'subtotal'"}, {"fold": ["lo", "smd", "hi"], "as": ["key", "value"]}], "mark": {"type": "trail", "color": "#000", "yOffset": -15}, "encoding": {"x": {"field": "value", "type": "quantitative"}, "y": {"field": "line", "type": "quantitative", "axis": null}, "size": {"field": "key", "type": "nominal", "scale": {"type": "ordinal", "domain": ["lo", "smd", "hi"], "range": [0, 62, 0]}, "legend": null}, "detail": {"field": "line", "type": "nominal"}}},
{"data": {"values": [{"t": -2}, {"t": -1}, {"t": 0}, {"t": 1}, {"t": 2}]}, "mark": {"type": "tick", "orient": "vertical", "size": 44, "thickness": 5, "color": "#1a1a1a"}, "encoding": {"x": {"field": "t", "type": "quantitative"}, "y": {"datum": 8.66, "type": "quantitative", "axis": null}}}
]}
], "spacing": 0, "bounds": "flush"}
]
}
